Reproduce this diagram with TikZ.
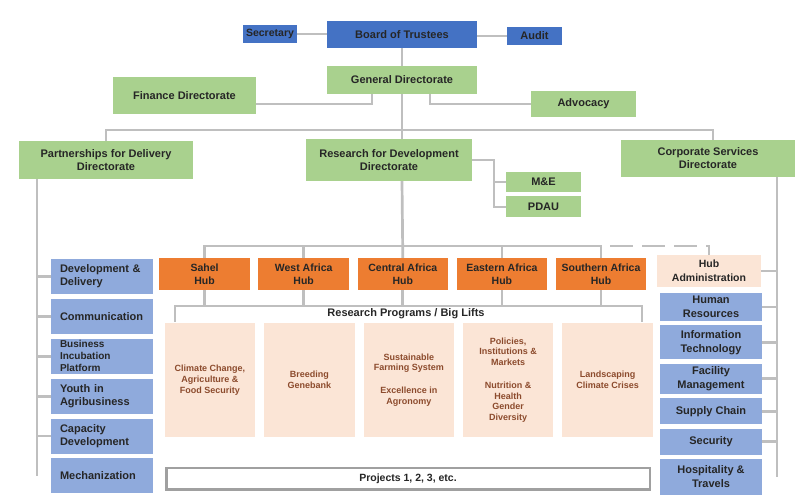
\documentclass[tikz,border=0pt]{standalone}
\usepackage{fontspec}
\setmainfont{Liberation Sans}
\usetikzlibrary{positioning}

\definecolor{dkblue}{RGB}{68,114,196}
\definecolor{dirgreen}{RGB}{169,209,142}
\definecolor{huborange}{RGB}{237,125,49}
\definecolor{unitblue}{RGB}{143,170,220}
\definecolor{peach}{RGB}{251,229,214}
\definecolor{linegray}{RGB}{191,191,191}
\definecolor{projgray}{RGB}{160,160,160}
\definecolor{progbrown}{RGB}{140,75,45}

\begin{document}
\begin{tikzpicture}[x=1pt,y=-1pt]

\tikzset{every node/.style = {font=\bfseries\fontsize{11}{13}\selectfont, text=black!85, inner sep=1pt, align=center}}
\tikzset{conn/.style = {draw=linegray, line width=2.7pt}}
\tikzstyle{topbox}    = [rectangle, fill=dkblue]
\tikzstyle{dirbox}    = [rectangle, fill=dirgreen]
\tikzstyle{hubbox}    = [rectangle, fill=huborange, minimum width=90.5pt, minimum height=32pt, font=\bfseries\fontsize{10.5}{13.3}\selectfont]
\tikzstyle{unitleft}  = [rectangle, fill=unitblue, align=left, text width=84pt, inner xsep=9pt, minimum height=35pt]
\tikzstyle{unitright} = [rectangle, fill=unitblue, minimum width=102pt, font=\bfseries\fontsize{11}{14}\selectfont]
\tikzstyle{progbox}   = [rectangle, fill=peach, minimum width=90.5pt, minimum height=114pt, font=\bfseries\fontsize{9}{10.7}\selectfont, text=progbrown]

\useasboundingbox (0,0) rectangle (807,502);

% top of the chart
\node[topbox, minimum width=150pt, minimum height=27pt]                                 (board)    at (402,34.5)  {Board of Trustees};
\node[topbox, minimum width=54pt, minimum height=18pt, font=\bfseries\fontsize{10.5}{12}\selectfont] (secr) at (270,34) {Secretary};
\node[topbox, minimum width=55pt, minimum height=18pt]                                  (audit)    at (534.5,36)  {Audit};
\node[dirbox, minimum width=150pt, minimum height=28pt]                                 (gen_dir)  at (402,80)    {General Directorate};
\node[dirbox, minimum width=143pt, minimum height=37pt]                                 (fin_dir)  at (184.5,95.5) {Finance Directorate};
\node[dirbox, minimum width=105pt, minimum height=26pt]                                 (advoc)    at (583.5,104) {Advocacy};

% directorates
\node[dirbox, minimum width=174pt, minimum height=38pt]                                 (part_dir) at (106,160)   {Partnerships for Delivery\\Directorate};
\node[dirbox, minimum width=166pt, minimum height=42pt, font=\bfseries\fontsize{11}{12.5}\selectfont] (res_dir) at (389,160) {Research for Development\\Directorate};
\node[dirbox, minimum width=174pt, minimum height=37pt]                                  (corp_dir) at (708,158.5) {Corporate Services\\Directorate};
\node[dirbox, minimum width=75pt, minimum height=20pt]                                  (m_e)      at (543.5,182) {M\&E};
\node[dirbox, minimum width=75pt, minimum height=21pt]                                  (pdau)     [below=4pt of m_e] {PDAU};

% partnerships units
\node[unitleft]                                                        (dev_del)  at (102,276.5)          {Development \&\\Delivery};
\node[unitleft]                                                        (comm)     [below=4.5pt of dev_del] {Communication};
\node[unitleft, font=\bfseries\fontsize{10}{12}\selectfont]            (bus_inc)  [below=4.5pt of comm]    {Business\\Incubation\\Platform};
\node[unitleft]                                                        (youth)    [below=4.5pt of bus_inc] {Youth in\\Agribusiness};
\node[unitleft]                                                        (cap_dev)  [below=4.5pt of youth]   {Capacity\\Development};
\node[unitleft]                                                        (mech)     [below=4.5pt of cap_dev] {Mechanization};

% hubs
\node[hubbox] (sahel)    at (204.6,274)              {Sahel\\Hub};
\node[hubbox] (west)     [right=8.2pt of sahel]      {West Africa\\Hub};
\node[hubbox] (central)  [right=8.2pt of west]       {Central Africa\\Hub};
\node[hubbox] (eastern)  [right=8.2pt of central]    {Eastern Africa\\Hub};
\node[hubbox] (southern) [right=8.2pt of eastern]    {Southern Africa\\Hub};
\node[rectangle, fill=peach, minimum width=104pt, minimum height=32pt, font=\bfseries\fontsize{10.5}{13.7}\selectfont] (hub_adm) at (709,271) {Hub\\Administration};

% corporate units
\node[unitright, minimum height=28pt] (hr)       at (711,307)             {Human\\Resources};
\node[unitright, minimum height=34pt] (it)       [below=4pt of hr]        {Information\\Technology};
\node[unitright, minimum height=30pt] (facility) [below=4pt of it]        {Facility\\Management};
\node[unitright, minimum height=26pt] (supply)   [below=4pt of facility]  {Supply Chain};
\node[unitright, minimum height=26pt] (security) [below=4pt of supply]    {Security};
\node[unitright, minimum height=36pt] (hosp)     [below=4pt of security]  {Hospitality \&\\Travels};

% research programs
\node (rp_title) at (406,313.5) {Research Programs / Big Lifts};
\node[progbox] (prog_cc)   at (210,380)             {Climate Change,\\Agriculture \&\\Food Security};
\node[progbox] (prog_br)   [right=8.5pt of prog_cc]  {Breeding\\Genebank};
\node[progbox] (prog_sf)   [right=8.5pt of prog_br]  {Sustainable\\Farming System\\[12pt]Excellence in\\Agronomy};
\node[progbox] (prog_pol)  [right=8.5pt of prog_sf]  {Policies,\\Institutions \&\\Markets\\[12pt]Nutrition \&\\Health\\Gender\\Diversity};
\node[progbox] (prog_land) [right=8.5pt of prog_pol] {Landscaping\\Climate Crises};
\node[rectangle, draw=projgray, line width=2.5pt, fill=white, minimum width=483.5pt, minimum height=21.5pt, font=\bfseries\fontsize{10.5}{12}\selectfont] (projects) at (408,479) {Projects 1, 2, 3, etc.};

\coordinate (top_bar)  at (402,130);
\coordinate (hub_bar)  at (402,246);
\coordinate (rp_top)   at (402,306);
\coordinate (rp_left)  at (175,322);
\coordinate (rp_right) at (642,322);
\coordinate (rd_bend)  at (494,160);
\coordinate (pd_line)  at (37,179);
\coordinate (cs_line)  at (777,177);

\draw[conn] (secr.east)                    -- (secr.east -| board.west);
\draw[conn] (audit.west)                   -- (audit.west -| board.east);
\draw[conn] (board)                        -- (gen_dir);
\draw[conn] ([xshift=-30pt]gen_dir.south)  |- (fin_dir.east |- advoc.west);
\draw[conn] ([xshift=28pt]gen_dir.south)   |- (advoc.west);
\draw[conn] (gen_dir.south)                -- (top_bar);
\draw[conn] (part_dir.north)               |- (top_bar) -| ([xshift=5pt]corp_dir.north);
\draw[conn] (top_bar)                      -- (top_bar |- res_dir.north);
\draw[conn] (res_dir.east)                 -- (rd_bend) |- (pdau.west);
\draw[conn] (rd_bend |- m_e.west)          -- (m_e.west);

\draw[conn] (pd_line)                      -- (pd_line |- mech.west);
\draw[conn] (pd_line |- dev_del.west)      -- (dev_del.west);
\draw[conn] (pd_line |- comm.west)         -- (comm.west);
\draw[conn] (pd_line |- bus_inc.west)      -- (bus_inc.west);
\draw[conn] (pd_line |- youth.west)        -- (youth.west);
\draw[conn] (pd_line |- cap_dev.west)      -- (cap_dev.west);

\draw[conn] (top_bar |- res_dir.south)     -- (central.north);
\draw[conn] (sahel.north)                  |- (hub_bar) -| (southern.north);
\draw[conn] (west.north)                   -- (west.north |- hub_bar);
\draw[conn] (eastern.north)                -- (eastern.north |- hub_bar);
\draw[conn, dash pattern=on 23pt off 9pt, dash phase=23pt] (southern.north |- hub_bar) -| (hub_adm.north);

\draw[conn] (rp_left)                      |- (rp_top) -| (rp_right);
\draw[conn] (sahel.south)                  -- (sahel.south |- rp_top);
\draw[conn] (west.south)                   -- (west.south |- rp_top);
\draw[conn] (central.south)                -- (central.south |- rp_top);
\draw[conn] (eastern.south)                -- (eastern.south |- rp_top);
\draw[conn] (southern.south)               -- (southern.south |- rp_top);

\draw[conn] (cs_line)                      -- (cs_line |- hosp.east);
\draw[conn] (cs_line |- hub_adm.east)      -- (hub_adm.east);
\draw[conn] (cs_line |- hr.east)           -- (hr.east);
\draw[conn] (cs_line |- it.east)           -- (it.east);
\draw[conn] (cs_line |- facility.east)     -- (facility.east);
\draw[conn] (cs_line |- supply.east)       -- (supply.east);
\draw[conn] (cs_line |- security.east)     -- (security.east);

\end{tikzpicture}
\end{document}
